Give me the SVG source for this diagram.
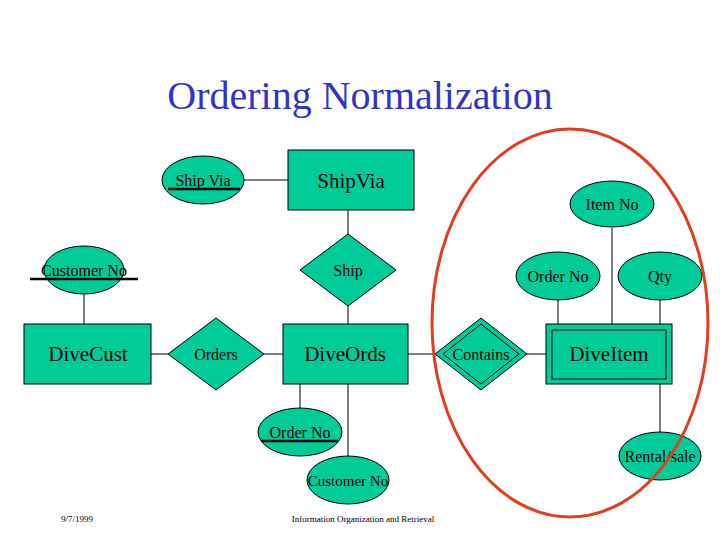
<svg xmlns="http://www.w3.org/2000/svg" width="720" height="540" viewBox="0 0 720 540">
<style>
.s{fill:#00cc99;stroke:#000;stroke-width:1}
.t{font-family:"Liberation Serif",serif;fill:#000;text-anchor:middle}
.a{font-size:16px}
.e{font-size:21px}
.c line{stroke:#000;stroke-width:1}
.u{stroke:#000;stroke-width:2.5}
</style>
<rect width="720" height="540" fill="#fff"/>
<text x="360" y="109" class="t" style="font-size:40px;fill:#3333cc">Ordering Normalization</text>
<g class="c">
<line x1="244" y1="180" x2="288" y2="180"/>
<line x1="348" y1="210" x2="348" y2="234"/>
<line x1="348" y1="306" x2="348" y2="324"/>
<line x1="84" y1="294" x2="84" y2="324"/>
<line x1="151" y1="354" x2="168" y2="354"/>
<line x1="264" y1="354" x2="283" y2="354"/>
<line x1="408" y1="354" x2="435" y2="354"/>
<line x1="527" y1="354" x2="546" y2="354"/>
<line x1="558" y1="300" x2="558" y2="324"/>
<line x1="612" y1="228" x2="612" y2="324"/>
<line x1="660" y1="300" x2="660" y2="324"/>
<line x1="660" y1="384" x2="660" y2="433"/>
<line x1="300" y1="384" x2="300" y2="408"/>
<line x1="348" y1="384" x2="348" y2="456"/>
</g>
<g id="shipvia-attr"><ellipse cx="203" cy="180" rx="41" ry="24" class="s"/><text x="203" y="186" class="t a">Ship Via</text><line x1="168" y1="189" x2="240" y2="189" class="u"/></g>
<g id="shipvia"><rect x="288" y="150" width="126" height="60" class="s"/><text x="351" y="188" class="t e">ShipVia</text></g>
<g id="ship"><polygon points="348,234 396,270 348,306 300,270" class="s"/><text x="348" y="276" class="t a">Ship</text></g>
<g id="custno"><ellipse cx="84" cy="270" rx="40" ry="24" class="s"/><text x="84" y="276" class="t a">Customer No</text><line x1="30" y1="279" x2="138" y2="279" class="u"/></g>
<g id="divecust"><rect x="24" y="324" width="127" height="60" class="s"/><text x="88" y="361" class="t e">DiveCust</text></g>
<g id="orders"><polygon points="216,318 264,354 216,390 168,354" class="s"/><text x="216" y="360" class="t a">Orders</text></g>
<g id="diveords"><rect x="283" y="324" width="125" height="60" class="s"/><text x="345" y="361" class="t e">DiveOrds</text></g>
<g id="contains"><polygon points="481,318 527,354 481,390 435,354" class="s"/><polygon points="481,324 519,354 481,384 443,354" fill="none" stroke="#000"/><text x="481" y="360" class="t a">Contains</text></g>
<g id="diveitem"><rect x="546" y="324" width="126" height="60" class="s"/><rect x="552" y="330" width="114" height="49" fill="none" stroke="#000"/><text x="609" y="361" class="t e">DiveItem</text></g>
<g id="itemno"><ellipse cx="612" cy="204" rx="42" ry="23" class="s"/><text x="612" y="210" class="t a">Item No</text></g>
<g id="orderno-r"><ellipse cx="558" cy="276" rx="42" ry="24" class="s"/><text x="558" y="282" class="t a">Order No</text></g>
<g id="qty"><ellipse cx="660" cy="276" rx="42" ry="24" class="s"/><text x="660" y="282" class="t a">Qty</text></g>
<g id="rental"><ellipse cx="660" cy="456" rx="41" ry="24" class="s"/><text x="660" y="462" class="t a">Rental/sale</text></g>
<g id="orderno-b"><ellipse cx="300" cy="432" rx="42" ry="24" class="s"/><text x="300" y="438" class="t a">Order No</text><line x1="261" y1="441" x2="338" y2="441" class="u"/></g>
<g id="custno-b"><ellipse cx="348" cy="480" rx="41" ry="24" class="s"/><text x="348" y="486" class="t" style="font-size:15px">Customer No</text></g>
<ellipse id="highlight" cx="570" cy="323" rx="138" ry="194" fill="none" stroke="#e04020" stroke-width="3"/>
<text x="77" y="522" class="t" style="font-size:9px">9/7/1999</text>
<text x="363" y="522" class="t" style="font-size:9px">Information Organization and Retrieval</text>
</svg>
